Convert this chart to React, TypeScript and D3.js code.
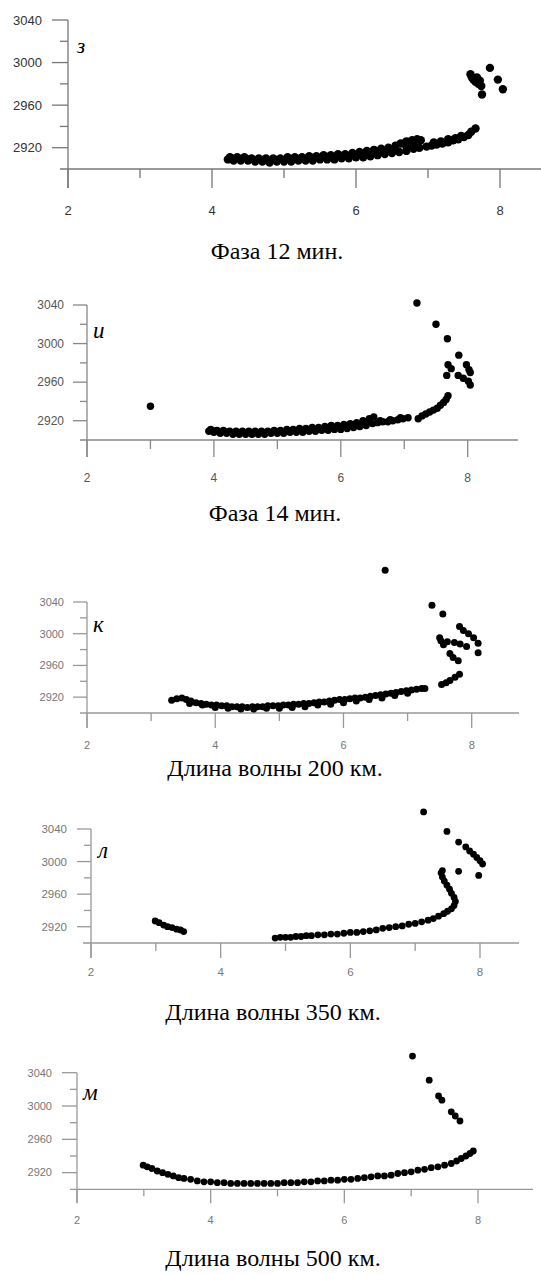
import React from "react";
import * as d3 from "d3";

type Pt = [number, number];

// Panel з — Фаза 12 мин.
const dataZ: Pt[] = [
  [4.22, 2909], [4.3, 2908], [4.4, 2908], [4.5, 2908], [4.6, 2907], [4.7, 2907], [4.8, 2906], [4.9, 2907],
  [5.0, 2907], [5.1, 2907], [5.2, 2908], [5.3, 2908], [5.4, 2908], [5.5, 2909], [5.6, 2909], [5.7, 2909],
  [5.8, 2910], [5.9, 2910], [6.0, 2911], [6.1, 2911], [6.2, 2912], [6.3, 2913], [6.4, 2914], [6.5, 2915],
  [6.6, 2916], [6.7, 2917], [6.8, 2919], [6.88, 2920],
  [4.25, 2911], [4.35, 2911], [4.45, 2911], [4.55, 2910], [4.65, 2910], [4.75, 2910], [4.85, 2910], [4.95, 2910],
  [5.05, 2911], [5.15, 2911], [5.25, 2911], [5.35, 2912], [5.45, 2912], [5.55, 2913], [5.65, 2913], [5.75, 2914],
  [5.85, 2914], [5.95, 2915], [6.05, 2916], [6.15, 2917], [6.25, 2918], [6.35, 2919], [6.45, 2920], [6.55, 2922],
  [6.62, 2924], [6.7, 2926], [6.78, 2927], [6.85, 2928], [6.9, 2927],
  [4.3, 2909.5], [4.5, 2909], [4.7, 2908.5], [4.9, 2908.5], [5.1, 2909], [5.3, 2909.5], [5.5, 2910.5], [5.7, 2911],
  [5.9, 2912], [6.1, 2913.5], [6.3, 2915.5], [6.5, 2917.5], [6.7, 2921], [6.8, 2923],
  [6.98, 2921], [7.05, 2922], [7.12, 2923], [7.2, 2924], [7.28, 2925], [7.35, 2927], [7.42, 2928], [7.5, 2930],
  [7.56, 2932], [7.08, 2925], [7.18, 2926], [7.28, 2928], [7.38, 2929], [7.46, 2931],
  [7.6, 2935], [7.66, 2938],
  [7.59, 2989], [7.61, 2986], [7.63, 2984], [7.66, 2982], [7.7, 2980], [7.74, 2978], [7.72, 2983], [7.75, 2970],
  [7.86, 2995], [7.97, 2984], [8.04, 2975], [7.68, 2986],
];

// Panel и — Фаза 14 мин.
const dataI: Pt[] = [
  [3.0, 2935],
  [3.92, 2909], [4.0, 2908], [4.1, 2907], [4.2, 2907], [4.3, 2906], [4.4, 2906], [4.5, 2906], [4.6, 2906],
  [4.7, 2906], [4.8, 2906], [4.9, 2907], [5.0, 2907], [5.1, 2907], [5.2, 2908], [5.3, 2908], [5.4, 2908],
  [5.5, 2909], [5.6, 2909], [5.7, 2910], [5.8, 2910], [5.9, 2911], [6.0, 2911], [6.1, 2912], [6.2, 2913],
  [6.3, 2914], [6.4, 2915], [6.5, 2917],
  [3.95, 2911], [4.05, 2910], [4.15, 2910], [4.25, 2909], [4.35, 2909], [4.45, 2909], [4.55, 2909], [4.65, 2909],
  [4.75, 2909], [4.85, 2909], [4.95, 2910], [5.05, 2910], [5.15, 2911], [5.25, 2911], [5.35, 2912], [5.45, 2912],
  [5.55, 2913], [5.65, 2913], [5.75, 2914], [5.85, 2915], [5.95, 2915], [6.05, 2916], [6.15, 2917], [6.25, 2918],
  [6.35, 2920], [6.45, 2922], [6.52, 2924],
  [4.0, 2909.5], [4.2, 2908], [4.4, 2907.5], [4.6, 2907.5], [4.8, 2907.5], [5.0, 2908.5], [5.2, 2909.5], [5.4, 2910],
  [5.6, 2911], [5.8, 2912.5], [6.0, 2913.5], [6.2, 2915.5], [6.4, 2918.5],
  [6.58, 2918], [6.66, 2919], [6.74, 2919], [6.82, 2920], [6.9, 2921], [6.98, 2922], [7.06, 2923],
  [6.62, 2920], [6.78, 2921], [6.94, 2923],
  [7.22, 2922], [7.28, 2925], [7.34, 2927], [7.4, 2929], [7.46, 2931], [7.52, 2933], [7.57, 2936], [7.62, 2939],
  [7.66, 2942], [7.69, 2946],
  [7.2, 3042], [7.5, 3020], [7.68, 3005], [7.86, 2988], [7.69, 2978], [7.74, 2974], [7.67, 2967],
  [7.98, 2978], [8.02, 2973], [8.04, 2970], [7.85, 2967], [7.93, 2964], [8.01, 2961], [8.04, 2957],
];

// Panel к — Длина волны 200 км.
const dataK: Pt[] = [
  [3.32, 2916], [3.4, 2918], [3.48, 2919], [3.55, 2917], [3.62, 2915], [3.7, 2913], [3.78, 2912], [3.86, 2911],
  [3.94, 2910], [4.02, 2910], [4.1, 2909], [4.18, 2909], [4.26, 2908], [4.34, 2908], [4.42, 2908], [4.5, 2907],
  [4.58, 2908], [4.66, 2908], [4.74, 2908], [4.82, 2909], [4.9, 2909], [4.98, 2909], [5.06, 2910], [5.14, 2910],
  [5.22, 2911], [5.3, 2911], [5.38, 2912], [5.46, 2912], [5.54, 2913], [5.62, 2914], [5.7, 2914], [5.78, 2915],
  [5.86, 2916], [5.94, 2917], [6.02, 2917], [6.1, 2918], [6.18, 2919], [6.26, 2919], [6.34, 2920], [6.42, 2921],
  [6.5, 2922], [6.58, 2923], [6.66, 2924], [6.74, 2925], [6.82, 2926], [6.9, 2927], [6.98, 2928], [7.06, 2929],
  [7.14, 2930], [7.22, 2931], [7.27, 2931],
  [3.6, 2912], [3.8, 2910], [4.0, 2907], [4.2, 2906], [4.4, 2905], [4.6, 2905], [4.8, 2906], [5.0, 2906],
  [5.2, 2907], [5.4, 2908], [5.6, 2910], [5.8, 2911], [6.0, 2913], [6.2, 2915], [6.4, 2917], [6.6, 2919],
  [6.8, 2922], [7.0, 2925],
  [7.53, 2936], [7.6, 2938], [7.66, 2941], [7.74, 2945], [7.81, 2949],
  [7.66, 2975], [7.71, 2970], [7.79, 2966], [7.56, 2986], [7.5, 2995], [7.52, 2991], [7.62, 2990],
  [7.73, 2989], [7.82, 2987], [7.92, 2984], [8.1, 2976],
  [7.81, 3009], [7.87, 3004], [7.95, 3000], [8.03, 2995], [8.1, 2988],
  [7.38, 3036], [7.55, 3025], [6.65, 3080],
];

// Panel л — Длина волны 350 км.
const dataL: Pt[] = [
  [2.99, 2927], [3.05, 2925], [3.12, 2922], [3.18, 2920], [3.25, 2919], [3.32, 2917], [3.38, 2916], [3.43, 2914],
  [4.84, 2906], [4.92, 2907], [5.0, 2907], [5.08, 2907], [5.16, 2908], [5.24, 2908], [5.32, 2909], [5.4, 2909],
  [5.5, 2910], [5.6, 2910], [5.7, 2911], [5.8, 2911], [5.9, 2912], [6.0, 2913], [6.1, 2913], [6.2, 2914],
  [6.3, 2915], [6.4, 2916], [6.5, 2918], [6.6, 2919], [6.7, 2920], [6.8, 2921], [6.9, 2923], [7.0, 2924],
  [7.1, 2926], [7.2, 2928], [7.28, 2930], [7.36, 2933], [7.44, 2936], [7.5, 2939], [7.56, 2942], [7.6, 2946],
  [7.62, 2951], [7.6, 2956], [7.56, 2961], [7.53, 2966], [7.49, 2971], [7.45, 2976], [7.42, 2981], [7.4, 2986],
  [7.42, 2989],
  [7.67, 2988], [7.98, 2983], [7.13, 3061], [7.49, 3037], [7.67, 3024], [7.78, 3018], [7.84, 3013],
  [7.9, 3009], [7.95, 3005], [8.0, 3001], [8.04, 2997],
];

// Panel м — Длина волны 500 км.
const dataM: Pt[] = [
  [2.99, 2929], [3.05, 2927], [3.12, 2925], [3.2, 2922], [3.28, 2920], [3.36, 2918], [3.44, 2916], [3.52, 2914],
  [3.6, 2913], [3.7, 2912], [3.8, 2910], [3.9, 2909], [4.0, 2909], [4.1, 2908], [4.2, 2908], [4.3, 2907],
  [4.4, 2907], [4.5, 2907], [4.6, 2907], [4.7, 2907], [4.8, 2907], [4.9, 2907], [5.0, 2907], [5.1, 2908],
  [5.2, 2908], [5.3, 2908], [5.4, 2909], [5.5, 2909], [5.6, 2910], [5.7, 2910], [5.8, 2911], [5.9, 2911],
  [6.0, 2912], [6.1, 2912], [6.2, 2913], [6.3, 2914], [6.4, 2915], [6.5, 2916], [6.6, 2916], [6.7, 2917],
  [6.8, 2919], [6.9, 2920], [7.0, 2921], [7.1, 2923], [7.2, 2924], [7.3, 2926], [7.4, 2927], [7.5, 2929],
  [7.6, 2931], [7.68, 2934], [7.75, 2937], [7.82, 2940], [7.88, 2943], [7.93, 2946],
  [7.02, 3060], [7.27, 3031], [7.41, 3012], [7.46, 3007], [7.6, 2993], [7.66, 2988], [7.73, 2982],
];

const letters = ["з", "и", "к", "л", "м"];
const captions = ["Фаза 12 мин.", "Фаза 14 мин.", "Длина волны 200 км.", "Длина волны 350 км.", "Длина волны 500 км."];
const xDomain: [number, number] = [2, 8];
const yDomain: [number, number] = [2900, 3040];
const xMajorTicks = [2, 4, 6, 8];
const xMinorTicks = [3, 5, 7];
const yMajorTicks = [2920, 2960, 3000, 3040];
const yMinorTicks = [2940, 2980, 3020];

const datasets = [dataZ, dataI, dataK, dataL, dataM];

const layouts = [
  { xr: [68, 500], yr: [169, 20], axFrom: 60, axTo: 541, yAxTo: 188, yMaj: 16, yMin: 8, xMaj: 19, xMin: 9, fs: 13, lblRight: 42, xLblY: 210, r: 4.2, lx: 77, ly: 53, lfs: 21, capY: 259, capX: 277, lblColor: "#333", axColor: "#777" },
  { xr: [87, 467.7], yr: [440, 305], axFrom: 80, axTo: 518, yAxTo: 457, yMaj: 14, yMin: 7, xMaj: 17, xMin: 9, fs: 12, lblRight: 64, xLblY: 478, r: 3.7, lx: 93, ly: 338, lfs: 23, capY: 521, capX: 275, lblColor: "#555", axColor: "#888" },
  { xr: [87, 471.7], yr: [713, 602], axFrom: 80, axTo: 519, yAxTo: 728, yMaj: 14, yMin: 7, xMaj: 15, xMin: 8, fs: 11, lblRight: 64, xLblY: 745, r: 3.5, lx: 93, ly: 632, lfs: 23, capY: 776, capX: 275, lblColor: "#777", axColor: "#999" },
  { xr: [91, 480], yr: [943, 829], axFrom: 83, axTo: 519, yAxTo: 958, yMaj: 14, yMin: 7, xMaj: 15, xMin: 8, fs: 11.5, lblRight: 67, xLblY: 972, r: 3.4, lx: 98, ly: 858, lfs: 23, capY: 1020, capX: 273, lblColor: "#777", axColor: "#999" },
  { xr: [77, 478], yr: [1189.3, 1072.7], axFrom: 70, axTo: 533, yAxTo: 1203, yMaj: 15, yMin: 7, xMaj: 14, xMin: 7, fs: 11, lblRight: 52, xLblY: 1220, r: 3.4, lx: 83, ly: 1100, lfs: 23, capY: 1266, capX: 273, lblColor: "#777", axColor: "#999" },
];

function Panel({ idx }: { idx: number }) {
  const L = layouts[idx];
  const data = datasets[idx];
  const x = d3.scaleLinear().domain(xDomain).range(L.xr as [number, number]);
  const y = d3.scaleLinear().domain(yDomain).range(L.yr as [number, number]);
  const x0 = x(2);
  const yBase = y(2900);
  return (
    <g>
      <line x1={L.axFrom} x2={L.axTo} y1={yBase} y2={yBase} stroke={L.axColor} strokeWidth={1.3} />
      <line x1={x0} x2={x0} y1={y(3040)} y2={L.yAxTo} stroke={L.axColor} strokeWidth={1.3} />
      {yMajorTicks.map((t) => (
        <g key={"ym" + t}>
          <line x1={x0 - L.yMaj} x2={x0} y1={y(t)} y2={y(t)} stroke={L.axColor} strokeWidth={1.3} />
          <text x={L.lblRight} y={y(t)} dy="0.35em" textAnchor="end" fontSize={L.fs} fill={L.lblColor}
            fontFamily="Liberation Sans, Arial, sans-serif">{t}</text>
        </g>
      ))}
      {yMinorTicks.map((t) => (
        <line key={"yn" + t} x1={x0 - L.yMin} x2={x0} y1={y(t)} y2={y(t)} stroke={L.axColor} strokeWidth={1.3} />
      ))}
      {xMajorTicks.map((t) => (
        <g key={"xm" + t}>
          <line x1={x(t)} x2={x(t)} y1={yBase} y2={yBase + L.xMaj} stroke={L.axColor} strokeWidth={1.3} />
          <text x={x(t)} y={L.xLblY} dy="0.35em" textAnchor="middle" fontSize={L.fs} fill={L.lblColor}
            fontFamily="Liberation Sans, Arial, sans-serif">{t}</text>
        </g>
      ))}
      {xMinorTicks.map((t) => (
        <line key={"xn" + t} x1={x(t)} x2={x(t)} y1={yBase} y2={yBase + L.xMin} stroke={L.axColor} strokeWidth={1.3} />
      ))}
      {data.map((d, i) => (
        <circle key={i} cx={x(d[0])} cy={y(d[1])} r={L.r} fill="#000" />
      ))}
      <text x={L.lx} y={L.ly} fontSize={L.lfs} fontStyle="italic" fontFamily="Liberation Serif, Times New Roman, serif" fill="#000">
        {letters[idx]}
      </text>
      <text x={L.capX} y={L.capY} textAnchor="middle" fontSize={24} fontFamily="Liberation Serif, Times New Roman, serif" fill="#000">
        {captions[idx]}
      </text>
    </g>
  );
}

export default function App() {
  return (
    <div style={{ position: "absolute", left: 0, top: 0 }}>
      <svg width={541} height={1274} style={{ display: "block", background: "#fff" }}>
        {layouts.map((_, i) => (
          <Panel key={i} idx={i} />
        ))}
      </svg>
    </div>
  );
}
